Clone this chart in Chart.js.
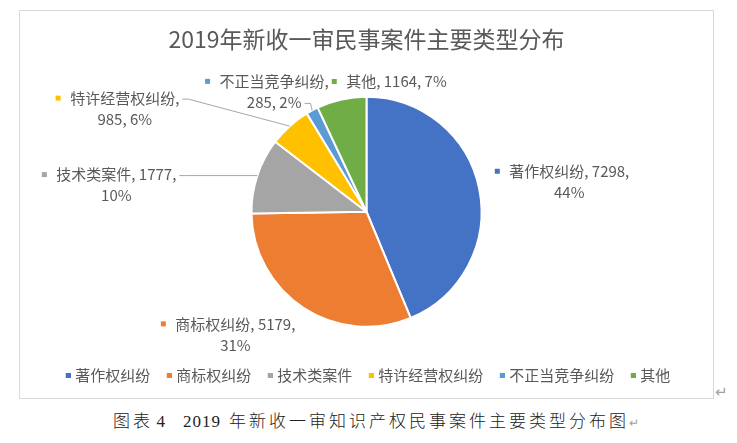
<!DOCTYPE html>
<html><head><meta charset="utf-8">
<script src="https://cdn.jsdelivr.net/npm/chart.js@4.4.0/dist/chart.umd.min.js"></script>
<style>
html,body{margin:0;padding:0;background:#fff;width:737px;height:443px;overflow:hidden;}
#frame{position:absolute;left:19px;top:10px;width:695px;height:389px;box-sizing:border-box;border:1px solid #d9d9d9;}
#c{display:block;}
#caption{position:absolute;left:113px;top:411px;font-family:"Liberation Serif","Noto Sans CJK SC";font-weight:300;font-size:17px;line-height:22px;color:#222;white-space:nowrap;}
#caption .cj{letter-spacing:3px;}
#caption .d{letter-spacing:1px;}
.ret{color:#a0a0a0;font-family:"DejaVu Sans";font-size:12px;letter-spacing:0;}
#ret1{position:absolute;left:715px;top:383px;font-size:15px;color:#a0a0a0;font-family:"DejaVu Sans";}
</style></head><body>
<div id="frame"><canvas id="c" width="693" height="387"></canvas></div>
<div id="ret1">↵</div>
<div id="caption"><span class="cj">图表</span><span class="d" style="margin-left:3.6px">4</span><span class="d" style="margin-left:17px">2019</span><span class="cj" style="margin-left:8px">年新收一审知识产权民事案件主要类型分布图</span><span class="ret">↵</span></div>
<script>
const titleText = '2019年新收一审民事案件主要类型分布';
const categories = ['著作权纠纷','商标权纠纷','技术类案件','特许经营权纠纷','不正当竞争纠纷','其他'];
const caseCounts = [7298,5179,1777,985,285,1164];
const percentLabels = ['44%','31%','10%','6%','2%','7%'];
const sliceColors = ['#4472C4','#ED7D31','#A5A5A5','#FFC000','#5B9BD5','#70AD47'];

// label placement relative to each slice's outer-edge midpoint (layout only)
const labelLayout = [
  {dx:90,  dy:-18, wrap:'pct'},
  {dx:-68, dy:16,  wrap:'pct'},
  {dx:-141,dy:-1,  wrap:'pct',  leader:0},
  {dx:-165,dy:-28, wrap:'name', leader:0},
  {dx:-38, dy:-29, wrap:'name', leader:1},
  {dx:55,  dy:-18, wrap:'none'}
];
const lineH = 21;
const FONT = '"Noto Sans CJK SC", "Noto Sans", sans-serif';

const labelPlugin = {
  id:'sliceLabels',
  afterDatasetsDraw(chart){
    const ctx = chart.ctx;
    const meta = chart.getDatasetMeta(0);
    ctx.save();
    ctx.font = '15px ' + FONT;
    ctx.textBaseline = 'middle';
    ctx.textAlign = 'center';
    meta.data.forEach((arc,i)=>{
      const p = arc.getProps(['x','y','startAngle','endAngle','outerRadius'], true);
      const mid = (p.startAngle + p.endAngle)/2;
      const ex = p.x + p.outerRadius*Math.cos(mid);
      const ey = p.y + p.outerRadius*Math.sin(mid);
      const L = labelLayout[i];
      const name = categories[i], v = String(caseCounts[i]), pc = percentLabels[i];
      let lines;
      if (L.wrap === 'pct') lines = [name + ', ' + v + ',', pc];
      else if (L.wrap === 'name') lines = [name + ',', v + ', ' + pc];
      else lines = [name + ', ' + v + ', ' + pc];
      const cx = ex + L.dx, y0 = ey + L.dy;
      ctx.fillStyle = '#595959';
      lines.forEach((t,k)=> ctx.fillText(t, cx, y0 + k*lineH));
      const w0 = ctx.measureText(lines[0]).width;
      ctx.fillStyle = sliceColors[i];
      ctx.fillRect(cx - w0/2 - 12 - 2.5, y0 - 2.5, 5, 5);
      if (L.leader !== undefined) {
        const lw = ctx.measureText(lines[L.leader]).width;
        const sx = cx + lw/2 + 3, sy = y0 + L.leader*lineH + 1;
        ctx.strokeStyle = '#a6a6a6';
        ctx.lineWidth = 1;
        ctx.beginPath();
        ctx.moveTo(sx, sy);
        ctx.lineTo(sx + 6, sy);
        ctx.lineTo(ex, ey);
        ctx.stroke();
      }
    });
    ctx.restore();
  }
};

function legendMarker(color){
  const c = document.createElement('canvas');
  c.width = 11; c.height = 5;
  const g = c.getContext('2d');
  g.fillStyle = color;
  g.fillRect(6,0,5,5);
  return c;
}
const markers = sliceColors.map(legendMarker);

new Chart(document.getElementById('c'), {
  type:'pie',
  data:{
    labels: categories,
    datasets:[{
      data: caseCounts,
      backgroundColor: sliceColors,
      borderColor:'#ffffff',
      borderWidth:2,
      radius:115
    }]
  },
  options:{
    responsive:false,
    animation:false,
    events:[],
    layout:{padding:{top:0,bottom:5,left:0,right:0}},
    plugins:{
      title:{
        display:true,
        text:titleText,
        color:'#595959',
        font:{family:FONT,size:23,weight:'normal',lineHeight:1.2},
        padding:{top:14,bottom:16.4}
      },
      legend:{
        display:true,
        position:'bottom',
        labels:{
          usePointStyle:true,
          pointStyleWidth:5,
          boxHeight:5,
          padding:13.5,
          color:'#595959',
          font:{family:FONT,size:15},
          generateLabels(chart){
            const items = Chart.overrides.pie.plugins.legend.labels.generateLabels(chart);
            items.forEach((it,i)=>{ it.pointStyle = markers[i]; it.fontColor = '#595959'; });
            return items;
          }
        }
      },
      tooltip:{enabled:false}
    }
  },
  plugins:[labelPlugin]
});
</script>
</body></html>
